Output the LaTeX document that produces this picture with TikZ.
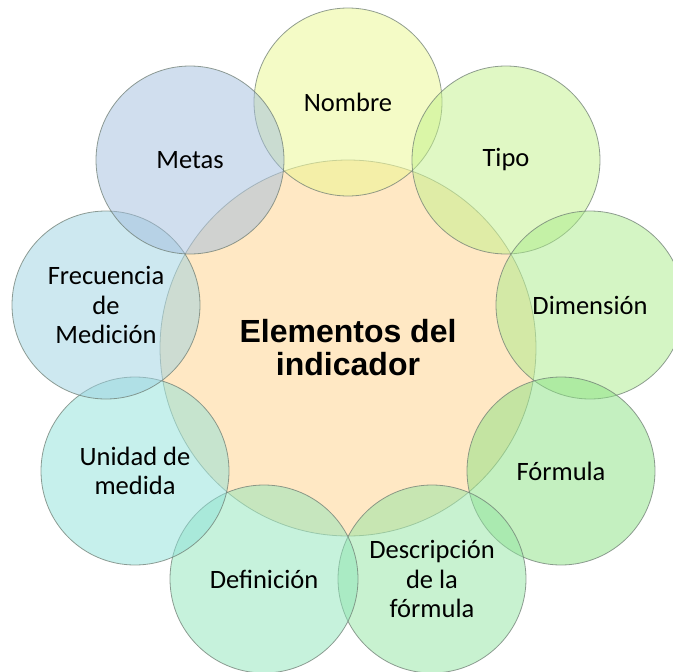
\documentclass[tikz,border=0pt]{standalone}
\usepackage{fontspec}
\setmainfont{Carlito}
\newfontfamily\centerfont{Liberation Sans}
\begin{document}
\begin{tikzpicture}[x=1pt,y=-1pt]
\definecolor{cCenter}{RGB}{255,209,137}
\definecolor{cNombre}{RGB}{233,247,141}
\definecolor{cTipo}{RGB}{193,241,137}
\definecolor{cDim}{RGB}{169,235,137}
\definecolor{cFor}{RGB}{137,225,129}
\definecolor{cDesc}{RGB}{145,229,161}
\definecolor{cDef}{RGB}{141,229,185}
\definecolor{cUni}{RGB}{141,225,217}
\definecolor{cFre}{RGB}{155,209,225}
\definecolor{cMet}{RGB}{161,189,221}
\definecolor{cLine}{RGB}{110,125,115}
\tikzset{
  bubble/.style={circle, minimum size=188pt, inner sep=0pt, fill=#1,
    fill opacity=0.5, text opacity=1, draw=cLine, draw opacity=0.75,
    line width=0.8pt, align=center,
    font=\fontsize{26.5}{29.5}\selectfont, text=black},
  hub/.style={circle, minimum size=376pt, inner sep=0pt, fill=cCenter,
    fill opacity=0.5, text opacity=1, draw=cLine, draw opacity=0.6,
    line width=0.8pt, align=center,
    font=\centerfont\bfseries\fontsize{32}{33}\selectfont, text=black}
}
\useasboundingbox (0,0) rectangle (673,672);
\node[hub] (center) at (348,348) {Elementos del\\indicador};
\node[bubble=cNombre] (nombre) at (348,102) {Nombre};
\node[bubble=cTipo] (tipo) at (506,160) {Tipo};
\node[bubble=cDim] (dim) at (590,305) {Dimensión};
\node[bubble=cFor] (formula) at (561,471) {Fórmula};
\node[bubble=cDesc] (desc) at (432,579) {Descripción\\de la\\fórmula};
\node[bubble=cDef] (def) at (264,579) {Definición};
\node[bubble=cUni] (unidad) at (135,471) {Unidad de\\medida};
\node[bubble=cFre] (frec) at (106,305) {Frecuencia\\de\\Medición};
\node[bubble=cMet] (metas) at (190,160) {Metas};
\end{tikzpicture}
\end{document}
